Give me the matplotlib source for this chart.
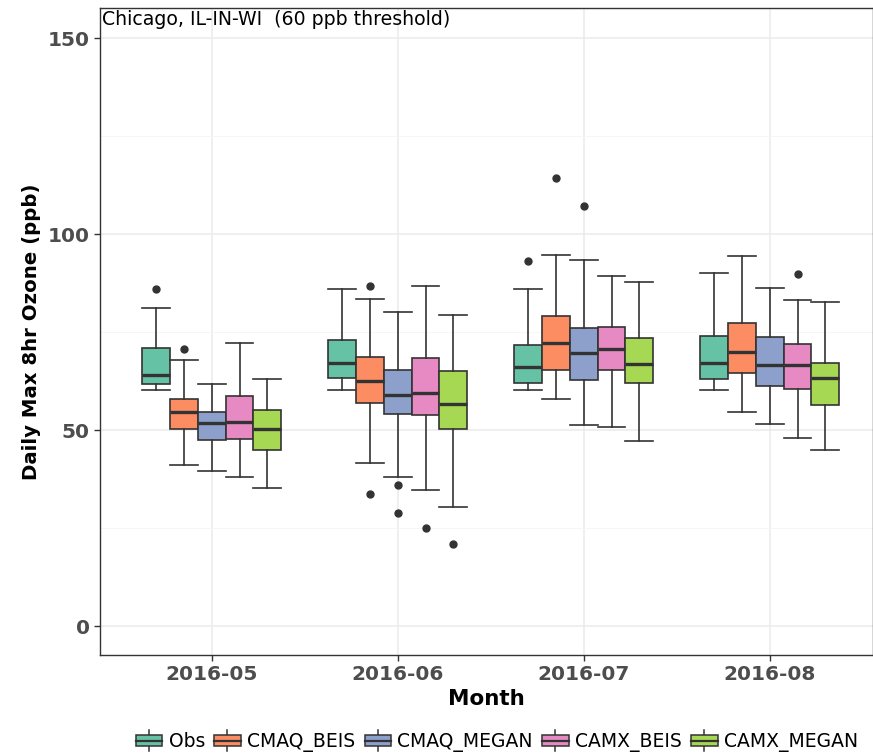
"""
Chicago ozone: daily max 8hr ozone by month, observed vs four model runs.
"""
import matplotlib
matplotlib.use("Agg")
import matplotlib.pyplot as plt
from matplotlib.legend_handler import HandlerBase
from matplotlib.lines import Line2D
from matplotlib.patches import Patch, Rectangle

MONTHS = ["2016-05", "2016-06", "2016-07", "2016-08"]
MODELS = ["Obs", "CMAQ_BEIS", "CMAQ_MEGAN", "CAMX_BEIS", "CAMX_MEGAN"]
COLORS = ["#66C2A5", "#FC8D62", "#8DA0CB", "#E78AC3", "#A6D854"]

# rows = months, columns = models (same order as MODELS)
WHISK_LO = [
    [60.2, 41.2, 39.5, 38.0, 35.1],
    [60.1, 41.7, 37.9, 34.7, 30.4],
    [60.2, 57.8, 51.4, 50.8, 47.2],
    [60.1, 54.5, 51.6, 48.0, 45.0],
]
Q1 = [
    [61.7, 50.2, 47.4, 47.6, 44.9],
    [63.3, 57.0, 54.2, 53.8, 50.2],
    [61.9, 65.3, 62.8, 65.3, 62.1],
    [63.1, 64.5, 61.2, 60.4, 56.4],
]
MEDIAN = [
    [64.1, 54.7, 51.7, 52.1, 50.2],
    [67.1, 62.6, 58.9, 59.4, 56.6],
    [66.1, 72.3, 69.6, 70.8, 66.9],
    [67.1, 70.0, 66.7, 66.7, 63.3],
]
Q3 = [
    [71.0, 58.0, 54.7, 58.8, 55.1],
    [73.0, 68.7, 65.2, 68.5, 65.0],
    [71.6, 79.1, 76.0, 76.4, 73.4],
    [74.0, 77.2, 73.7, 71.9, 67.2],
]
WHISK_HI = [
    [81.1, 67.9, 61.7, 72.1, 63.0],
    [86.0, 83.5, 80.2, 86.7, 79.3],
    [86.1, 94.6, 93.5, 89.4, 87.7],
    [90.1, 94.4, 86.3, 83.3, 82.8],
]
OUTLIERS = [
    [[86.1], [70.8], [], [], []],
    [[], [86.7, 33.6], [35.9, 28.8], [24.9], [21.0]],
    [[93.1], [114.4], [107.2], [], []],
    [[], [], [], [89.9], []],
]

EDGE = "#333333"
# 参考图的字偏宽,DejaVu Sans 比 Liberation Sans 更接近
plt.rcParams["font.family"] = ["DejaVu Sans"]

BOX_W = 0.15


class BoxHandler(HandlerBase):
    """Draw a small boxplot glyph as legend key, ggplot style."""

    def create_artists(self, legend, orig_handle, xdescent, ydescent,
                       width, height, fontsize, trans):
        x0, y0 = -xdescent, -ydescent
        cx = x0 + width / 2
        rect = Rectangle((x0, y0 + height * 0.15), width, height * 0.7,
                         facecolor=orig_handle.get_facecolor(),
                         edgecolor=EDGE, linewidth=1.1, transform=trans)
        mid = Line2D([x0, x0 + width], [y0 + height / 2] * 2,
                     color=EDGE, lw=1.6, transform=trans)
        top = Line2D([cx, cx], [y0 + height * 0.85, y0 + height * 1.15],
                     color=EDGE, lw=1.1, transform=trans)
        bot = Line2D([cx, cx], [y0 - height * 0.15, y0 + height * 0.15],
                     color=EDGE, lw=1.1, transform=trans)
        return [top, bot, rect, mid]


fig = plt.figure(figsize=(8.73, 7.54), dpi=100)
ax = fig.add_axes([100 / 873, 1 - 655 / 754, 773 / 873, 647 / 754])

for k, (model, color) in enumerate(zip(MODELS, COLORS)):
    stats = []
    positions = []
    for i in range(len(MONTHS)):
        stats.append({
            "whislo": WHISK_LO[i][k], "q1": Q1[i][k], "med": MEDIAN[i][k],
            "q3": Q3[i][k], "whishi": WHISK_HI[i][k],
            "fliers": OUTLIERS[i][k],
        })
        positions.append(i + 1 + (k - 2) * BOX_W)
    ax.bxp(stats, positions=positions, widths=BOX_W, capwidths=BOX_W,
           patch_artist=True, manage_ticks=False,
           boxprops=dict(facecolor=color, edgecolor=EDGE, linewidth=1.2),
           medianprops=dict(color=EDGE, linewidth=2.4, solid_capstyle="butt"),
           whiskerprops=dict(color=EDGE, linewidth=1.2),
           capprops=dict(color=EDGE, linewidth=1.2),
           flierprops=dict(marker="o", markerfacecolor=EDGE,
                           markeredgecolor=EDGE, markersize=5))

ax.set_xlim(0.4, 0.4 + 773 / 186)
ax.set_ylim(-7.4, 157.7)
ax.set_xticks(range(1, len(MONTHS) + 1))
ax.set_xticklabels(MONTHS)
ax.set_yticks([0, 50, 100, 150])
ax.set_yticks([25, 75, 125], minor=True)

ax.grid(which="major", color="#EBEBEB", linewidth=1.1)
ax.grid(which="minor", axis="y", color="#F5F5F5", linewidth=0.6)
ax.set_axisbelow(True)

for side in ax.spines.values():
    side.set_color(EDGE)
    side.set_linewidth(1.0)

ax.tick_params(which="major", length=4, color=EDGE, width=1.0,
               labelsize=14.5, labelcolor="#4D4D4D")
ax.tick_params(which="minor", length=0)
for lab in ax.get_xticklabels() + ax.get_yticklabels():
    lab.set_fontweight("bold")

ax.set_xlabel("Month", fontsize=15.5, fontweight="bold", labelpad=3)
ax.set_ylabel("Daily Max 8hr Ozone (ppb)", fontsize=14.2, fontweight="bold",
              labelpad=5)

ax.text(0.002, 0.997, "Chicago, IL-IN-WI  (60 ppb threshold)",
        transform=ax.transAxes, ha="left", va="top", fontsize=13.6)

handles = [Patch(facecolor=c, label=m) for m, c in zip(MODELS, COLORS)]
fig.legend(handles=handles, handler_map={Patch: BoxHandler()},
           loc="center", bbox_to_anchor=(497 / 873, 1 - 742 / 754),
           ncol=5, frameon=False, fontsize=13.5, handlelength=1.4,
           handleheight=0.9, handletextpad=0.35, columnspacing=0.5)

fig.savefig("out.png", dpi=100)
